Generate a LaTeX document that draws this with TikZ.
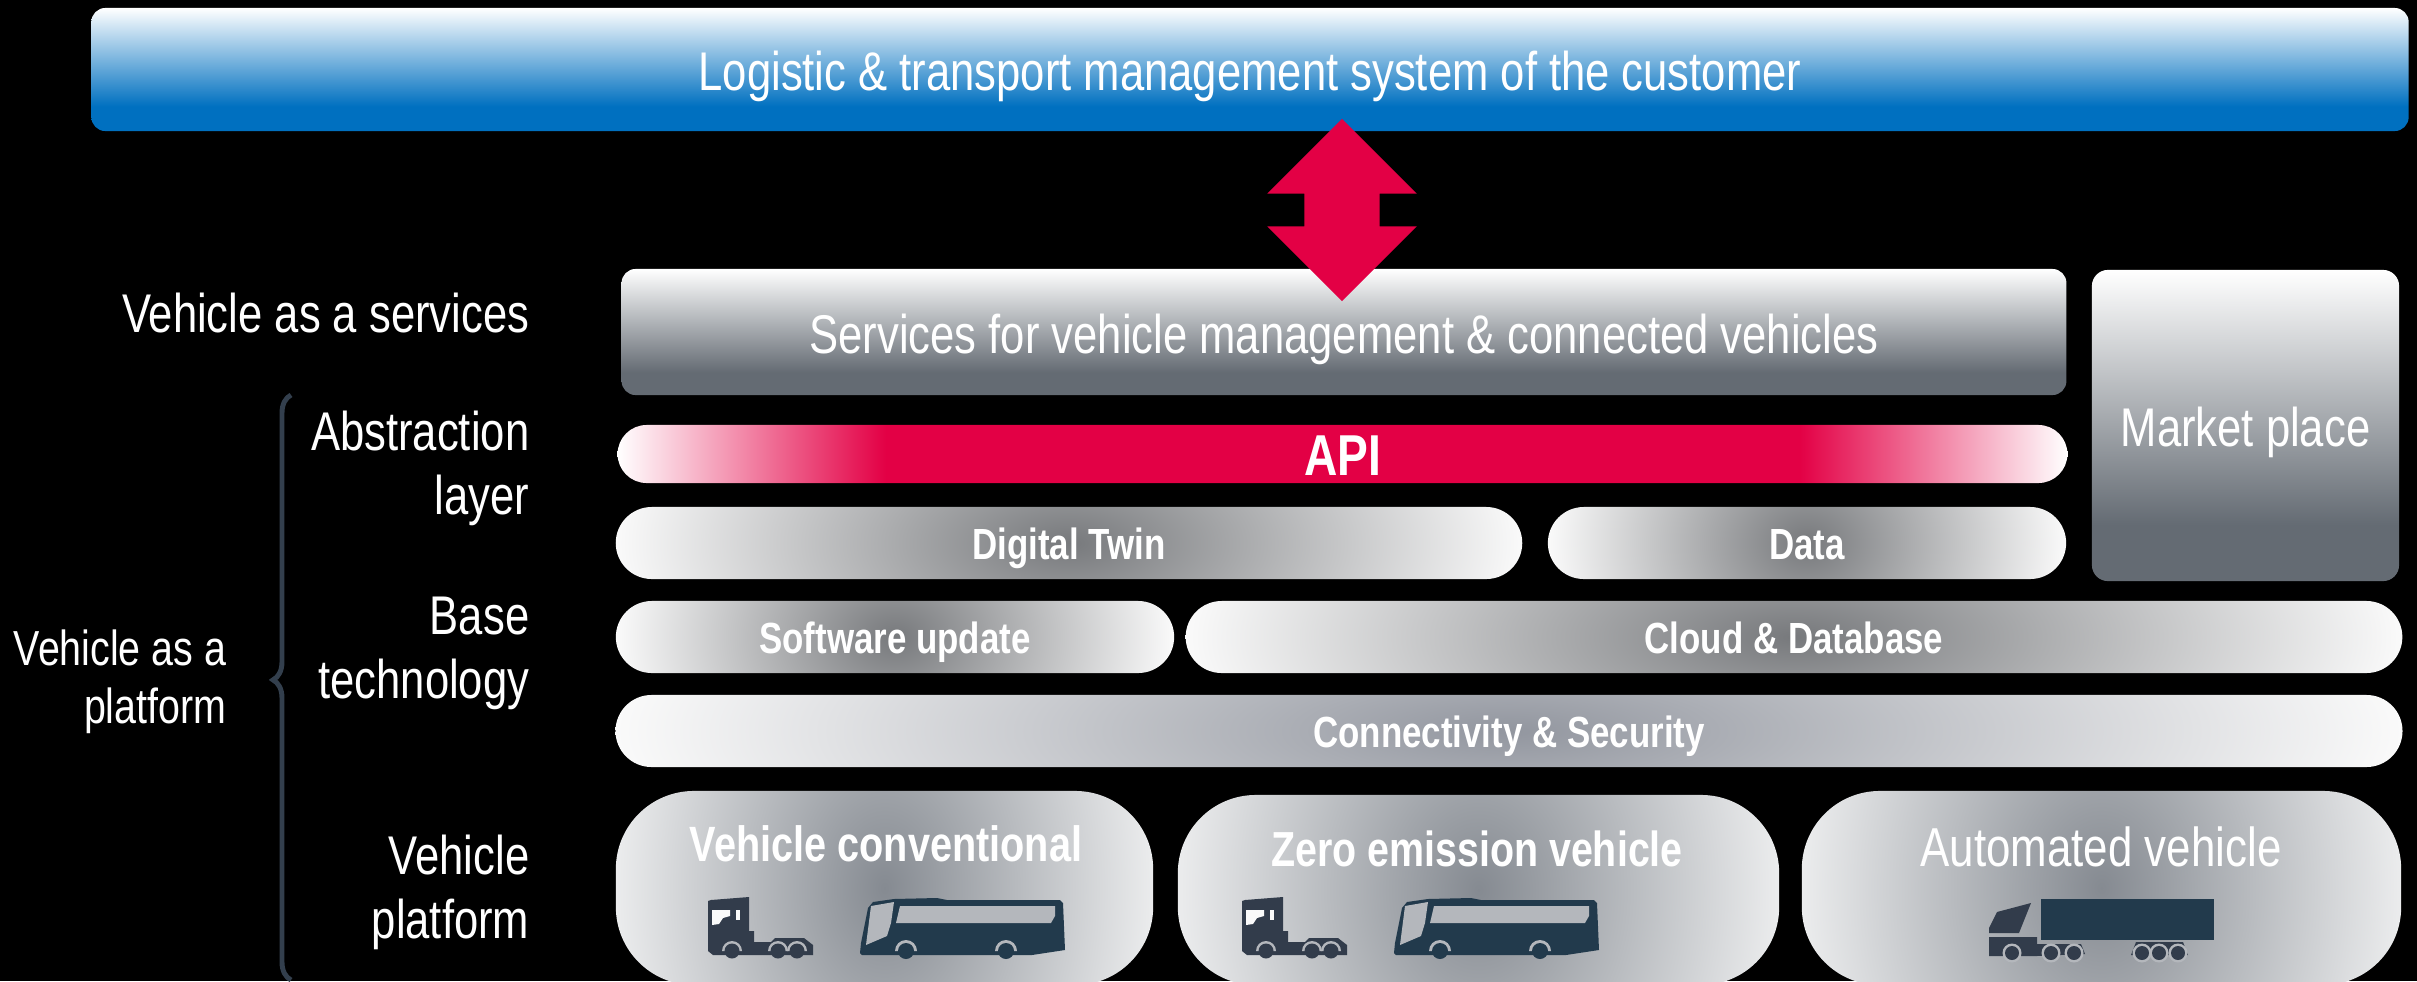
\documentclass[tikz,border=0pt]{standalone}
\usepackage{fontspec}
\setmainfont[FakeStretch=0.80]{Liberation Sans}
\usetikzlibrary{shapes.arrows, calc, decorations.pathreplacing}

\definecolor{logiblue}{HTML}{0070C0}
\definecolor{slategrey}{HTML}{646B73}
\definecolor{apired}{HTML}{E30045}
\definecolor{coredark}{HTML}{77797C}
\definecolor{corecool}{HTML}{858A91}
\definecolor{coreflat}{HTML}{92969F}
\definecolor{rimlight}{HTML}{FAFAFA}
\definecolor{rimcool}{HTML}{EBECED}
\definecolor{bracecol}{HTML}{333F4D}
\definecolor{truckcol}{HTML}{323C4B}
\definecolor{buscol}{HTML}{223A4C}
\definecolor{glasscol}{HTML}{B4B7BC}

\pgfdeclareverticalshading{skyfade}{100bp}{color(0bp)=(logiblue); color(35bp)=(logiblue); color(75bp)=(white); color(100bp)=(white)}
\pgfdeclareverticalshading{greyfade}{100bp}{color(0bp)=(slategrey); color(34bp)=(slategrey); color(75bp)=(white); color(100bp)=(white)}
\pgfdeclarehorizontalshading{apifade}{100bp}{color(0bp)=(white); color(25bp)=(white); color(34.25bp)=(apired); color(65.75bp)=(apired); color(75bp)=(white); color(100bp)=(white)}
\pgfdeclareradialshading{halodark}{\pgfpointorigin}{color(0bp)=(coredark); color(25bp)=(rimlight); color(50bp)=(rimlight)}
\pgfdeclareradialshading{halocool}{\pgfpointorigin}{color(0bp)=(corecool); color(25bp)=(rimcool); color(50bp)=(rimcool)}
\pgfdeclareradialshading{haloflat}{\pgfpointorigin}{color(0bp)=(coreflat); color(25bp)=(rimlight); color(50bp)=(rimlight)}

\tikzstyle{rowlabel} = [text=white, anchor=east, align=right, inner sep=0pt, font=\fontsize{15.5}{18.2}\selectfont]

\begin{document}
\begin{tikzpicture}[x=0.01cm, y=-0.01cm,
    box/.style n args={3}{rectangle, inner sep=0pt, text=white, minimum width=#1cm, minimum height=#2cm, rounded corners=#3cm, text height=14pt, text depth=1.9pt},
    halo/.style 2 args={path picture={\shade[shading=#1] ($(path picture bounding box.south west)!-#2!(path picture bounding box.north west)$) rectangle ($(path picture bounding box.south east)!1+#2!(path picture bounding box.north east)$);}},
    bartext/.style={font=\fontsize{12.4}{13}\bfseries\selectfont, text height=11pt, text depth=1.4pt},
    truck/.pic={
        \fill[truckcol] (0,4) -- (3,3) -- (41,0) -- (41,34) -- (46,34) -- (46,45) -- (63,45) -- (67,41) -- (96,41) -- (105,48) -- (105,58) -- (90,58) -- (20,58) -- (5,58) -- (0,54) -- cycle;
        \fill[rimlight] (4,13) -- (22,13) -- (22,19) -- (15,21) -- (11,27) -- (4,28) -- cycle;
        \fill[rimlight] (28,13) rectangle (32,23);
        \foreach \wx in {24,70,89} {
            \fill[glasscol] (\wx-10,54) arc (180:360:10) -- cycle;
            \fill[truckcol] (\wx,54) circle [radius=7.5];
        }
    },
    bus/.pic={
        \fill[buscol] (0,55) -- (1,45) -- (8,10) -- (13,4) -- (34,1) -- (77,0) -- (87,2) -- (200,2) -- (203,5) -- (205,52) -- (172,57) -- (2,57) -- cycle;
        \fill[glasscol] (11,8) -- (34,4) -- (31,25) -- (27,38) -- (6,47) -- cycle;
        \fill[glasscol] (40,8) -- (195,8) -- (195,18) -- (191,25) -- (36,25) -- cycle;
        \foreach \wx in {46,146} {
            \fill[glasscol] (\wx-11,53) arc (180:360:11) -- cycle;
            \fill[buscol] (\wx,53) circle [radius=8];
        }
    },
    robotruck/.pic={
        \fill[buscol] (52,0) rectangle (225,41);
        \fill[truckcol] (42,4) -- (8,13) -- (0,29) -- (0,34) -- (30,34) -- cycle;
        \fill[truckcol] (0,38) -- (48,38) -- (48,45) -- (92,45) -- (96,55) -- (48,57) -- (0,57) -- cycle;
        \fill[truckcol] (142,56) -- (147,43) -- (194,43) -- (199,56) -- cycle;
        \foreach \wx in {23,62,85,153,170,189} {
            \fill[glasscol] (\wx,54) circle [radius=9.5];
        }
        \foreach \wx in {23,62,85,153,170,189} {
            \fill[truckcol] (\wx,54) circle [radius=7];
        }
    }]
    \path[use as bounding box, fill=black] (0,0) rectangle (2417,981);
    \clip (0,0) rectangle (2417,981);

    \node[box={23.16}{1.23}{0.14}, shading=skyfade, font=\fontsize{15.5}{18}\selectfont] (customer) at (1250,69.5) {Logistic \& transport management system of the customer};
    \node[box={14.44}{1.26}{0.14}, shading=greyfade, font=\fontsize{15.5}{18}\selectfont] (services) at (1344,332) {Services for vehicle management \& connected vehicles};
    \node[box={3.07}{3.11}{0.16}, shading=greyfade, font=\fontsize{15.5}{18}\selectfont] (market) at (2245.5,425.5) {Market place};
    \node[box={14.49}{0.58}{0.29}, shading=apifade, font=\fontsize{16.4}{18}\bfseries\selectfont] (api) at (1342.5,454) {API};

    \node[box={9.06}{0.72}{0.36}, halo={halodark}{2.5}, bartext] (twin) at (1069,543) {Digital Twin};
    \node[box={5.18}{0.72}{0.36}, halo={halodark}{2.5}, bartext] (data) at (1807,543) {Data};
    \node[box={5.58}{0.72}{0.36}, halo={halodark}{2.5}, bartext] (update) at (895,637) {Software update};
    \node[box={12.16}{0.72}{0.36}, halo={halodark}{2.5}, bartext] (cloud) at (1794,637) {Cloud \& Database};
    \node[box={17.86}{0.72}{0.36}, halo={haloflat}{2.5}, bartext] (connect) at (1509,731) {Connectivity \& Security};

    \node[box={5.37}{1.94}{0.78}, halo={halocool}{1.5}] (conventional) at (884.5,888) {};
    \node[box={6.01}{1.90}{0.78}, halo={halocool}{1.5}] (zero) at (1478.5,890) {};
    \node[box={5.99}{1.94}{0.78}, halo={halocool}{1.5}] (automated) at (2101.5,888) {};

    \node[text=white, font=\fontsize{14.1}{15}\bfseries\selectfont] (conventionaltext) at (886,844) {Vehicle conventional};
    \node[text=white, font=\fontsize{14}{15}\bfseries\selectfont] (zerotext) at (1477,849) {Zero emission vehicle};
    \node[text=white, font=\fontsize{15.6}{15}\selectfont] (automatedtext) at (2101,847) {Automated vehicle};

    \pic at (708,897) {truck};
    \pic at (860,898) {bus};
    \pic at (1242,897) {truck};
    \pic at (1394,898) {bus};
    \pic at (1989,899) {robotruck};

    \node[double arrow, rotate=90, fill=apired, inner xsep=0pt, inner ysep=0.37cm, minimum height=1.82cm, double arrow head extend=0.37cm, double arrow tip angle=90] (link) at (1342,210) {};

    \node[rowlabel] (vaas) at (530,313) {Vehicle as a services};
    \node[rowlabel] (abstraction) at (530,468) {Abstraction\\layer};
    \node[rowlabel] (base) at (530,653) {Base\\technology};
    \node[rowlabel] (platform) at (530,892) {Vehicle\\platform};
    \node[rowlabel, font=\fontsize{14}{16.5}\selectfont] (vaap) at (227,682) {Vehicle as a\\platform};

    \coordinate (bracetop) at (291,395);
    \coordinate (bracebot) at (291,980);
    \draw[bracecol, line width=1.4pt, decorate, decoration={brace, amplitude=0.18cm, aspect=0.513}] (bracebot) -- (bracetop);
\end{tikzpicture}
\end{document}
